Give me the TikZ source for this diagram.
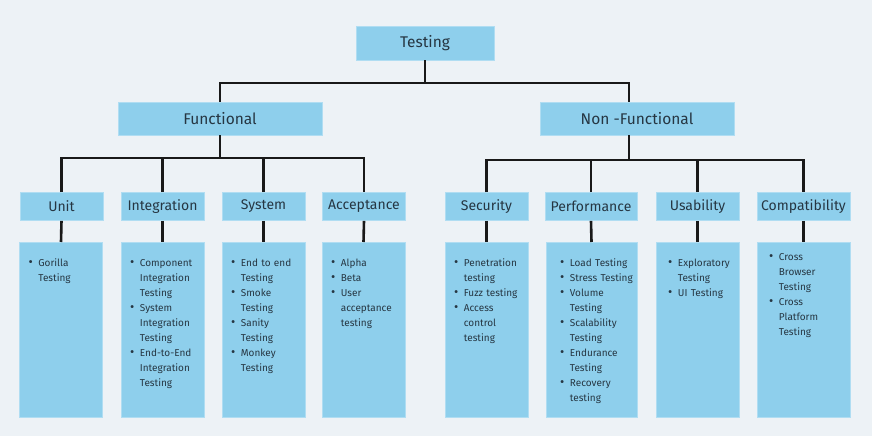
\documentclass[tikz,border=0pt]{standalone}
\usepackage{fontspec}
\setmainfont{Fira Sans}
\usepackage{enumitem}
\usetikzlibrary{positioning,calc}
\definecolor{bgc}{HTML}{EDF2F6}
\definecolor{boxblue}{HTML}{8ECFEC}
\definecolor{txt}{HTML}{263642}
\setlist[itemize]{leftmargin=19pt,labelsep=5.5pt,itemsep=0pt,topsep=0pt,parsep=0pt,partopsep=0pt,label=\scalebox{1.3}{\textbullet}}

\begin{document}
\begin{tikzpicture}[x=1pt,y=-1pt,
  box/.style={fill=boxblue,draw=boxblue!70!white,line width=0.6pt,text=txt,inner sep=0pt},
  root/.style={box,minimum width=138pt,minimum height=34pt,font=\fontsize{15.5}{18}\selectfont},
  cat/.style={box,minimum height=33pt,font=\fontsize{15.5}{18}\selectfont},
  sub/.style={box,minimum width=83pt,minimum height=28pt,font=\fontsize{14}{16}\selectfont},
  detbox/.style={box,minimum width=83pt,minimum height=175pt,anchor=north},
  detlist/.style={anchor=north west,inner sep=0pt,text width=120pt,text=txt,font=\fontsize{10}{15}\selectfont},
  link/.style={line width=2.6pt,draw=black!90}]
  \fill[bgc] (0,0) rectangle (872,436);
  \useasboundingbox (0,0) rectangle (872,436);

  \node[root] (test) at (425,43) {Testing};
  \node[cat,minimum width=204pt] (fun) at (220,118.5) {Functional};
  \node[cat,minimum width=194pt] (nf) at (637,118.5) {Non -Functional};

  \node[sub] (u1) at (61.5,206.5) {Unit};
  \node[sub] (i1) at (162.5,206.5) {Integration};
  \node[sub] (s1) at (263.5,206.5) {System};
  \node[sub] (a1) at (364,206.5) {Acceptance};
  \node[sub] (se1) at (486.5,206.5) {Security};
  \node[sub,minimum width=92pt] (p1) at (591,206.5) {Performance};
  \node[sub] (us1) at (697.5,206.5) {Usability};
  \node[sub,minimum width=93pt] (c1) at (803.5,206.5) {Compatibility};

  \node[detbox] (u2) at (61,242) {};
  \node[detbox] (i2) at (162.5,242) {};
  \node[detbox] (s2) at (263.5,242) {};
  \node[detbox] (a2) at (363.5,242) {};
  \node[detbox] (se2) at (486.5,242) {};
  \node[detbox,minimum width=91pt] (p2) at (591.5,242) {};
  \node[detbox] (us2) at (697.5,242) {};
  \node[detbox,minimum width=93pt] (c2) at (803.5,242) {};

  \node[detlist] (u3) at ([shift={(0,9)}]u2.north west) {\begin{itemize}
    \item Gorilla\newline Testing
  \end{itemize}};
  \node[detlist] (i3) at ([shift={(0,9)}]i2.north west) {\begin{itemize}
    \item Component\newline Integration\newline Testing
    \item System\newline Integration\newline Testing
    \item End-to-End\newline Integration\newline Testing
  \end{itemize}};
  \node[detlist] (s3) at ([shift={(0,9)}]s2.north west) {\begin{itemize}
    \item End to end\newline Testing
    \item Smoke\newline Testing
    \item Sanity\newline Testing
    \item Monkey\newline Testing
  \end{itemize}};
  \node[detlist] (a3) at ([shift={(0,9)}]a2.north west) {\begin{itemize}
    \item Alpha
    \item Beta
    \item User\newline acceptance\newline testing
  \end{itemize}};
  \node[detlist] (se3) at ([shift={(0,9)}]se2.north west) {\begin{itemize}
    \item Penetration\newline testing
    \item Fuzz testing
    \item Access\newline control\newline testing
  \end{itemize}};
  \node[detlist] (p3) at ([shift={(5,9)}]p2.north west) {\begin{itemize}
    \item Load Testing
    \item Stress Testing
    \item Volume\newline Testing
    \item Scalability\newline Testing
    \item Endurance\newline Testing
    \item Recovery\newline testing
  \end{itemize}};
  \node[detlist] (us3) at ([shift={(3,9)}]us2.north west) {\begin{itemize}
    \item Exploratory\newline Testing
    \item UI Testing
  \end{itemize}};
  \node[detlist] (c3) at ([shift={(3,3)}]c2.north west) {\begin{itemize}
    \item Cross\newline Browser\newline Testing
    \item Cross\newline Platform\newline Testing
  \end{itemize}};

  \coordinate (t0) at (425,83);
  \coordinate (f0) at (220,158);
  \coordinate (n0) at (629,160);
  \draw[link] (test.south) -- (t0);
  \draw[link] (fun.north) |- (t0) -| ([xshift=-8pt]nf.north);
  \draw[link] (fun.south) -- (f0);
  \draw[link] (u1.north) |- (f0) -| (a1.north);
  \draw[link] ([xshift=-8pt]nf.south) -- (n0);
  \draw[link] (se1.north) |- (n0) -| (c1.north);
  \foreach \n in {i1,s1} \draw[link] (\n.north) -- (\n.north |- f0);
  \foreach \n in {p1,us1} \draw[link] (\n.north) -- (\n.north |- n0);
  \foreach \n in {u,i,s,a,se,p,us,c} \draw[link] (\n1.south) -- (\n2.north);
\end{tikzpicture}
\end{document}
